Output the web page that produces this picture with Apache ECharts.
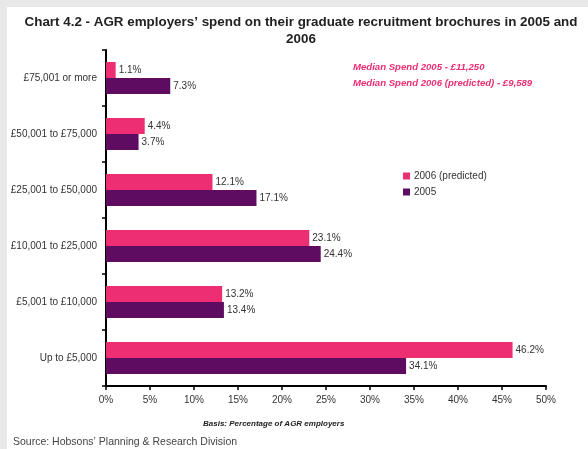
<!DOCTYPE html>
<html>
<head>
<meta charset="utf-8">
<script src="https://cdn.jsdelivr.net/npm/echarts@6/dist/echarts.min.js"></script>
<style>
  html, body { margin: 0; padding: 0; background: #e8e8e8; }
  #panel { position: absolute; left: 7px; top: 7px; width: 581px; height: 442px; background: #ffffff; }
  #chart { position: absolute; left: 0; top: 0; width: 588px; height: 449px; }
</style>
</head>
<body>
<div id="panel"></div>
<div id="chart"></div>
<script>
// Spend bands, listed top to bottom
const categories = [
  '£75,001 or more',
  '£50,001 to £75,000',
  '£25,001 to £50,000',
  '£10,001 to £25,000',
  '£5,001 to £10,000',
  'Up to £5,000'
];
// Percentage of AGR employers in each band
const spend2006 = [1.1, 4.4, 12.1, 23.1, 13.2, 46.2];
const spend2005 = [7.3, 3.7, 17.1, 24.4, 13.4, 34.1];
const seriesNames = ['2006 (predicted)', '2005'];
const xTicks = [0, 5, 10, 15, 20, 25, 30, 35, 40, 45, 50];

const FONT = 'Arial, "Liberation Sans", sans-serif';
const PINK = '#ee2e72';
const PURPLE = '#5e0c62';

const chart = echarts.init(document.getElementById('chart'), null, { renderer: 'canvas' });

const valueLabel = {
  show: true,
  position: 'right',
  distance: 3,
  fontFamily: FONT,
  fontSize: 10,
  color: '#333',
  formatter: p => p.value.toFixed(1) + '%'
};

chart.setOption({
  animation: false,
  backgroundColor: 'transparent',
  textStyle: { fontFamily: FONT },
  title: {
    text: 'Chart 4.2 - AGR employers’ spend on their graduate recruitment brochures in 2005 and\n2006',
    left: 296,
    top: 9,
    textAlign: 'center',
    textStyle: {
      fontFamily: FONT,
      fontSize: 13.4,
      fontWeight: 'bold',
      color: '#222',
      lineHeight: 17,
      align: 'center'
    }
  },
  legend: {
    orient: 'vertical',
    left: 398,
    top: 166,
    itemWidth: 7,
    itemHeight: 7,
    itemGap: 6,
    icon: 'rect',
    textStyle: { fontFamily: FONT, fontSize: 10, color: '#333', padding: [0, 0, 0, -1] },
    data: seriesNames
  },
  grid: { left: 106, top: 50, width: 440, height: 336, containLabel: false },
  xAxis: {
    type: 'value',
    min: xTicks[0],
    max: xTicks[xTicks.length - 1],
    interval: 5,
    axisLine: { show: true, lineStyle: { color: '#000', width: 2 } },
    axisTick: { show: true, length: 4, lineStyle: { color: '#000', width: 1.5 } },
    splitLine: { show: false },
    axisLabel: {
      fontFamily: FONT, fontSize: 10, color: '#333', margin: 9,
      formatter: v => v + '%'
    }
  },
  yAxis: {
    type: 'category',
    inverse: true,
    data: categories,
    axisLine: { show: true, lineStyle: { color: '#000', width: 2 } },
    axisTick: { show: true, length: 4, lineStyle: { color: '#000', width: 1.5 } },
    axisLabel: { fontFamily: FONT, fontSize: 10, color: '#333', margin: 9 }
  },
  series: [
    {
      name: seriesNames[0],
      type: 'bar',
      data: spend2006,
      itemStyle: { color: PINK },
      barWidth: 16,
      barGap: '0%',
      label: valueLabel
    },
    {
      name: seriesNames[1],
      type: 'bar',
      data: spend2005,
      itemStyle: { color: PURPLE },
      barWidth: 16,
      barGap: '0%',
      label: valueLabel
    }
  ],
  graphic: [
    {
      type: 'text', left: 353, top: 62,
      style: {
        text: 'Median Spend 2005 - £11,250',
        font: 'italic bold 9.6px ' + FONT, fill: PINK
      }
    },
    {
      type: 'text', left: 353, top: 78,
      style: {
        text: 'Median Spend 2006 (predicted) - £9,589',
        font: 'italic bold 9.6px ' + FONT, fill: PINK
      }
    },
    {
      type: 'text', left: 203, top: 420,
      style: {
        text: 'Basis: Percentage of AGR employers',
        font: 'italic bold 8px ' + FONT, fill: '#222'
      }
    },
    {
      type: 'text', left: 13, top: 437,
      style: {
        text: 'Source: Hobsons’ Planning & Research Division',
        font: '10.5px ' + FONT, fill: '#444'
      }
    }
  ]
});
</script>
</body>
</html>
